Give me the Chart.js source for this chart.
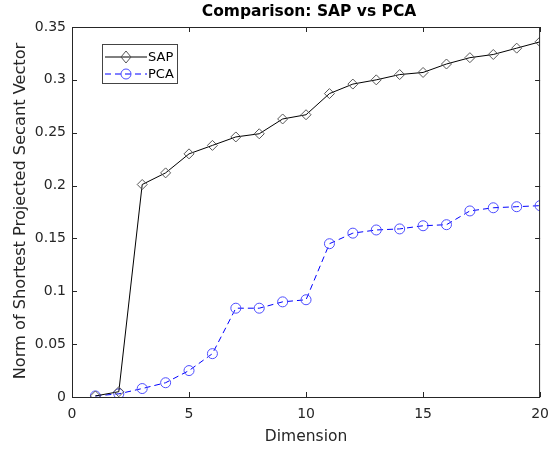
<!DOCTYPE html>
<html>
<head>
<meta charset="utf-8">
<script src="https://cdn.jsdelivr.net/npm/chart.js@4"></script>
<style>
  html, body { margin: 0; padding: 0; background: #fff; }
  #wrap { width: 558px; height: 450px; }
</style>
</head>
<body>
<div id="wrap"><canvas id="cmpChart"></canvas></div>
<script>
// data
const dims = [1, 2, 3, 4, 5, 6, 7, 8, 9, 10, 11, 12, 13, 14, 15, 16, 17, 18, 19, 20];
const sapValues = [0.001, 0.005, 0.201, 0.212, 0.230, 0.238, 0.246, 0.249, 0.263, 0.267,
  0.287, 0.296, 0.300, 0.305, 0.307, 0.315, 0.321, 0.324, 0.330, 0.336];
const pcaValues = [0.001, 0.003, 0.008, 0.0135, 0.025, 0.041, 0.084, 0.084, 0.090, 0.092,
  0.145, 0.155, 0.158, 0.159, 0.162, 0.163, 0.176, 0.179, 0.180, 0.181];
const xTicks = [0, 5, 10, 15, 20];
const yTicks = [0, 0.05, 0.1, 0.15, 0.2, 0.25, 0.3, 0.35];
const yTickLabels = ['0', '0.05', '0.1', '0.15', '0.2', '0.25', '0.3', '0.35'];

const FONT = 'DejaVu Sans';
const AXIS = '#262626';

// box, inward ticks, titles and legend, MATLAB style
const matlabAxes = {
  id: 'matlabAxes',
  afterDraw(chart) {
    const { ctx, chartArea: a, scales: { x, y } } = chart;
    ctx.save();
    ctx.strokeStyle = AXIS;
    ctx.lineWidth = 1;
    ctx.strokeRect(a.left + 0.5, a.top + 0.5, a.right - a.left - 1, a.bottom - a.top);
    ctx.beginPath();
    xTicks.forEach(v => {
      const px = Math.round(x.getPixelForValue(v)) + 0.5;
      ctx.moveTo(px, a.bottom); ctx.lineTo(px, a.bottom - 5);
      ctx.moveTo(px, a.top); ctx.lineTo(px, a.top + 5);
    });
    yTicks.forEach(v => {
      const py = Math.round(y.getPixelForValue(v)) + 0.5;
      ctx.moveTo(a.left, py); ctx.lineTo(a.left + 5, py);
      ctx.moveTo(a.right, py); ctx.lineTo(a.right - 5, py);
    });
    ctx.stroke();

    // title
    ctx.fillStyle = '#000';
    ctx.font = 'bold 15.5px "' + FONT + '"';
    ctx.textAlign = 'center';
    ctx.textBaseline = 'middle';
    ctx.fillText('Comparison: SAP vs PCA', (a.left + a.right) / 2 + 3, 12);

    // y axis title
    ctx.save();
    ctx.translate(21, 211);
    ctx.rotate(-Math.PI / 2);
    ctx.fillStyle = AXIS;
    ctx.font = '16.2px "' + FONT + '"';
    ctx.fillText('Norm of Shortest Projected Secant Vector', 0, 0);
    ctx.restore();

    // legend
    const lx = 102, ly = 44, lw = 75, lh = 39;
    ctx.fillStyle = '#fff';
    ctx.fillRect(lx, ly, lw, lh);
    ctx.strokeStyle = '#444';
    ctx.strokeRect(lx + 0.5, ly + 0.5, lw, lh);
    ctx.font = '13px "' + FONT + '"';
    ctx.textAlign = 'left';
    chart.data.datasets.forEach((ds, i) => {
      const ry = ly + 13 + i * 17;
      ctx.strokeStyle = ds.borderColor;
      ctx.lineWidth = 1;
      ctx.setLineDash(ds.borderDash || []);
      ctx.beginPath();
      ctx.moveTo(lx + 3, ry); ctx.lineTo(lx + 45, ry);
      ctx.stroke();
      ctx.setLineDash([]);
      ctx.strokeStyle = ds.pointBorderColor;
      ctx.beginPath();
      const cx = lx + 24;
      if (ds.pointStyle === 'circle') {
        ctx.arc(cx, ry, 5, 0, Math.PI * 2);
      } else {
        ctx.moveTo(cx, ry - 6); ctx.lineTo(cx + 5, ry);
        ctx.lineTo(cx, ry + 6); ctx.lineTo(cx - 5, ry); ctx.closePath();
      }
      ctx.stroke();
      ctx.fillStyle = '#000';
      ctx.fillText(ds.label, lx + 46, ry + 1);
    });
    ctx.restore();
  }
};

new Chart(document.getElementById('cmpChart'), {
  type: 'line',
  data: {
    datasets: [{
      label: 'SAP',
      data: dims.map((d, i) => ({ x: d, y: sapValues[i] })),
      borderColor: '#000',
      borderWidth: 1,
      pointStyle: 'rectRot',
      pointRadius: 5,
      pointBorderColor: '#555',
      pointBackgroundColor: 'rgba(0,0,0,0)',
      pointBorderWidth: 1,
      tension: 0
    }, {
      label: 'PCA',
      data: dims.map((d, i) => ({ x: d, y: pcaValues[i] })),
      borderColor: '#0000ff',
      borderWidth: 1,
      borderDash: [6, 4],
      pointStyle: 'circle',
      pointRadius: 5,
      pointBorderColor: '#4d4dff',
      pointBackgroundColor: 'rgba(0,0,0,0)',
      pointBorderWidth: 1,
      tension: 0
    }]
  },
  options: {
    responsive: true,
    maintainAspectRatio: false,
    animation: false,
    layout: { padding: { top: 27, right: 17, left: 0, bottom: 0 } },
    plugins: { legend: { display: false }, tooltip: { enabled: false } },
    scales: {
      x: {
        type: 'linear',
        min: 0, max: 20,
        afterBuildTicks: s => { s.ticks = xTicks.map(v => ({ value: v })); },
        afterFit: s => { s.height = 53; },
        grid: { display: false, drawTicks: false },
        border: { display: false },
        ticks: { color: AXIS, font: { family: FONT, size: 14 }, padding: 9, maxRotation: 0 },
        title: { display: true, text: 'Dimension', color: AXIS, font: { family: FONT, size: 15.5 }, padding: { top: 0, bottom: 4 } }
      },
      y: {
        min: 0, max: 0.35,
        afterBuildTicks: s => { s.ticks = yTicks.map(v => ({ value: v })); },
        afterFit: s => { s.width = 72; },
        grid: { display: false, drawTicks: false },
        border: { display: false },
        ticks: {
          color: AXIS, font: { family: FONT, size: 14 }, padding: 6,
          callback: (v, i) => yTickLabels[i]
        },
        title: { display: false }
      }
    }
  },
  plugins: [matlabAxes]
});
</script>
</body>
</html>
